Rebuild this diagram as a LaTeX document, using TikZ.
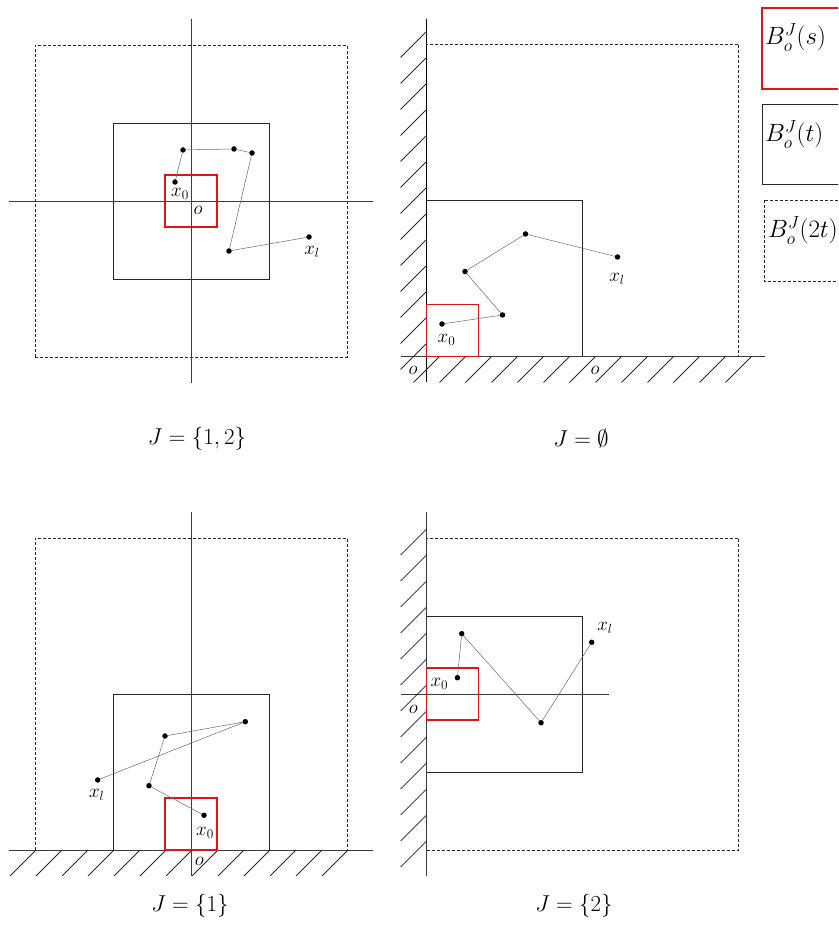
\RequirePackage{fix-cm}
\documentclass[tikz,border=0pt]{standalone}
\usepackage{amsmath}
\usepackage{tikz}
\definecolor{BoxRed}{RGB}{225, 20, 20}
\definecolor{AxisGray}{RGB}{60, 60, 60}
\definecolor{WalkGray}{RGB}{105, 105, 105}

\begin{document}
\begin{tikzpicture}[
        x=1pt, y=1pt,
        % Boites B_o^J(s), B_o^J(t), B_o^J(2t)
        smallbox/.style={draw=BoxRed, line width=1.2pt},
        midbox/.style={draw=black!85, line width=0.9pt},
        bigbox/.style={draw=black!85, line width=0.9pt, dash pattern=on 3pt off 2pt},
        % Axes, murs et hachures
        axis/.style={draw=AxisGray, line width=0.85pt},
        hatch/.style={draw=black!85, line width=0.75pt},
        % Marche
        walk/.style={draw=WalkGray, line width=0.5pt},
        dot/.style={circle, fill=black, inner sep=0pt, minimum size=5.5pt},
        % Textes
        lab/.style={font=\fontsize{19}{22}\selectfont, inner sep=0pt},
        caption/.style={font=\fontsize{23}{27}\selectfont, inner sep=0pt},
        legend/.style={font=\fontsize{25}{30}\selectfont, inner sep=0pt, anchor=base west}
    ]
    \useasboundingbox (0,0) rectangle (838,949);
    \clip (0,0) rectangle (838,949);

    % --- CAS J = {1,2} (HAUT GAUCHE) ---
    \begin{scope}[shift={(191,748)}]
        \draw[bigbox] (-156,-156) rectangle (156,156);
        \draw[midbox] (-78,-78) rectangle (78,78);
        \draw[axis] (-182,0) -- (182,0);
        \draw[axis] (0,-182) -- (0,182);
        \draw[smallbox] (-26,-26) rectangle (26,26);
        \node[dot] (a0) at (-16,19) {};
        \node[dot] (a1) at (-8,51) {};
        \node[dot] (a2) at (43,52) {};
        \node[dot] (a3) at (61,48) {};
        \node[dot] (a4) at (38,-50) {};
        \node[dot] (a5) at (118,-36) {};
        \draw[walk] (a0) -- (a1) -- (a2) -- (a3) -- (a4) -- (a5);
        \node[lab] (a0lab) at (-11,7) {$x_0$};
        \node[lab] (aolab) at (7,-9) {$o$};
        \node[lab] (a5lab) at (121,-51) {$x_l$};
    \end{scope}
    \node[caption] (capA) at (197,510) {$J=\{1,2\}$};

    % --- CAS J = VIDE (HAUT DROITE) ---
    \begin{scope}[shift={(426.5,592.5)}]
        \draw[bigbox] (0,0) rectangle (312,312);
        \draw[midbox] (0,0) rectangle (156,156);
        \draw[axis, draw=black] (0,-26) -- (0,337);
        \draw[axis] (-26,0) -- (338,0);
        \foreach \k in {0,...,12} {
            \draw[hatch] (-26,{26*\k-13}) -- (0,{26*\k+13});
            \draw[hatch] ({26*\k-13},-26) -- ({26*\k+13},0);
        }
        \draw[smallbox] (0,0) rectangle (52,52);
        \node[dot] (b0) at (15.5,32.5) {};
        \node[dot] (b1) at (76,41.5) {};
        \node[dot] (b2) at (38.5,85) {};
        \node[dot] (b3) at (99,122.5) {};
        \node[dot] (b4) at (191,99.5) {};
        \draw[walk] (b0) -- (b1) -- (b2) -- (b3) -- (b4);
        \node[lab] (b0lab) at (20,16.5) {$x_0$};
        \node[lab] (b4lab) at (190.5,77.5) {$x_l$};
        \node[lab] (bolab) at (-13.5,-13.5) {$o$};
        \node[lab] (bolab2) at (168.5,-13.5) {$o$};
    \end{scope}
    \node[caption] (capB) at (581,510) {$J=\emptyset$};

    % --- CAS J = {1} (BAS GAUCHE) ---
    \begin{scope}[shift={(191,99)}]
        \draw[bigbox] (-156,0) rectangle (156,312);
        \draw[midbox] (-78,0) rectangle (78,156);
        \draw[axis] (-182,0) -- (182,0);
        \draw[axis] (0,-26) -- (0,338);
        \foreach \k in {-6,...,6} {
            \draw[hatch] ({26*\k-25},-26) -- ({26*\k+1},0);
        }
        \draw[smallbox] (-26,0) rectangle (26,52);
        \node[dot] (c0) at (13,34.7) {};
        \node[dot] (c1) at (-42,64.3) {};
        \node[dot] (c2) at (-26,114) {};
        \node[dot] (c3) at (54.3,128.3) {};
        \node[dot] (c4) at (-93.3,70) {};
        \draw[walk] (c0) -- (c1) -- (c2) -- (c3) -- (c4);
        \node[lab] (c0lab) at (14,16.7) {$x_0$};
        \node[lab] (c4lab) at (-94.3,55) {$x_l$};
        \node[lab] (colab) at (8.3,-11.7) {$o$};
    \end{scope}
    \node[caption] (capC) at (190,43) {$J=\{1\}$};

    % --- CAS J = {2} (BAS DROITE) ---
    \begin{scope}[shift={(426.7,255)}]
        \draw[bigbox] (0,-156) rectangle (312,156);
        \draw[midbox] (0,-78) rectangle (156,78);
        \draw[axis] (0,-182) -- (0,182);
        \draw[axis] (-26,0) -- (182,0);
        \foreach \k in {-6,...,6} {
            \draw[hatch] (-26,{26*\k-17}) -- (0,{26*\k+9});
        }
        \draw[smallbox] (0,-26) rectangle (52,26);
        \node[dot] (d0) at (30.7,16.3) {};
        \node[dot] (d1) at (35,60.3) {};
        \node[dot] (d2) at (114.3,-28.7) {};
        \node[dot] (d3) at (165,51.7) {};
        \draw[walk] (d0) -- (d1) -- (d2) -- (d3);
        \node[lab] (d0lab) at (12.7,10) {$x_0$};
        \node[lab] (d3lab) at (178.3,65.7) {$x_l$};
        \node[lab] (dolab) at (-13.3,-15.3) {$o$};
    \end{scope}
    \node[caption] (capD) at (574,43) {$J=\{2\}$};

    % --- LEGENDE ---
    \draw[smallbox] (762,941) rectangle (900,860);
    \draw[midbox] (762,845) rectangle (900,765);
    \draw[bigbox] (764,749) rectangle (900,668);
    \node[legend] (legS) at (765,904) {$B_o^J(s)$};
    \node[legend] (legT) at (765,807) {$B_o^J(t)$};
    \node[legend] (legTT) at (768,711) {$B_o^J(2t)$};

\end{tikzpicture}
\end{document}
